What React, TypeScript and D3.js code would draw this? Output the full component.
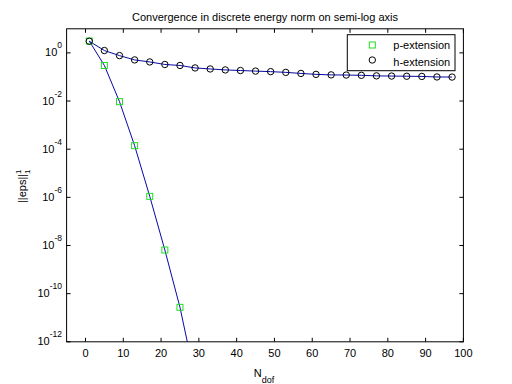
import React from 'react';
import * as d3 from 'd3';

// p-extension (squares) and h-extension (circles)
const pN = [1, 5, 9, 13, 17, 21, 25, 29];
const pErr = [3.1, 0.3, 0.0094, 1.4e-4, 1.1e-6, 6.5e-9, 2.7e-11, 3e-14];

const hN = [1, 5, 9, 13, 17, 21, 25, 29, 33, 37, 41, 45, 49, 53, 57, 61, 65, 69, 73, 77, 81, 85, 89, 93, 97];
const hErr = [3.05, 1.25, 0.77, 0.51, 0.42, 0.33, 0.3, 0.237, 0.215, 0.196, 0.185, 0.175, 0.166, 0.155,
  0.14, 0.128, 0.122, 0.12, 0.117, 0.111, 0.109, 0.107, 0.105, 0.1, 0.099];

const xTicks = [0, 10, 20, 30, 40, 50, 60, 70, 80, 90, 100];
const yExps = [0, -2, -4, -6, -8, -10, -12];

const W = 512;
const H = 384;
const m = { left: 66.6, right: 48.6, top: 28.8, bottom: 42.2 };

const App: React.FC = () => {
  const x = d3.scaleLinear().domain([-5, 100]).range([m.left, W - m.right]);
  const y = d3.scaleLog().domain([1e-12, 10]).range([H - m.bottom, m.top]);

  const line = d3.line<[number, number]>()
    .x(d => x(d[0]))
    .y(d => y(d[1]));

  const pPts = pN.map((n, i) => [n, pErr[i]] as [number, number]);
  const hPts = hN.map((n, i) => [n, hErr[i]] as [number, number]);

  const x0 = m.left, x1 = W - m.right, y0 = m.top, y1 = H - m.bottom;
  const tl = 4;
  const font = 'Liberation Sans, Arial, sans-serif';
  const blue = '#0808a8';
  const green = '#22dd22';

  return (
    <svg width={W} height={H} style={{ position: 'absolute', left: 0, top: 0, background: '#fff' }}
      fontFamily={font}>
      <defs>
        <clipPath id="plot"><rect x={x0} y={y0} width={x1 - x0} height={y1 - y0} /></clipPath>
      </defs>
      <rect width={W} height={H} fill="#fff" />

      {/* ticks */}
      {xTicks.map(t => (
        <g key={'x' + t}>
          <line x1={x(t)} x2={x(t)} y1={y1} y2={y1 - tl} stroke="#000" />
          <line x1={x(t)} x2={x(t)} y1={y0} y2={y0 + tl} stroke="#000" />
          <text x={x(t)} y={356.5} fontSize={11} textAnchor="middle">{t}</text>
        </g>
      ))}
      {yExps.map(e => (
        <g key={'y' + e}>
          <line x1={x0} x2={x0 + tl} y1={y(10 ** e)} y2={y(10 ** e)} stroke="#000" />
          <line x1={x1} x2={x1 - tl} y1={y(10 ** e)} y2={y(10 ** e)} stroke="#000" />
          <text x={62} y={y(10 ** e) + 3.5} fontSize={11} textAnchor="end">
            10<tspan dy={-8} fontSize={8.5}>{e === 0 ? '0' : '-' + Math.abs(e)}</tspan>
          </text>
        </g>
      ))}

      {/* lines and markers */}
      <g clipPath="url(#plot)">
        <path d={line(pPts) ?? ''} fill="none" stroke={blue} strokeWidth={1} />
        <path d={line(hPts) ?? ''} fill="none" stroke={blue} strokeWidth={1} />
        {pPts.map((d, i) => (
          <rect key={'p' + i} x={x(d[0]) - 3} y={y(d[1]) - 3} width={6} height={6}
            fill="none" stroke={green} strokeWidth={1} />
        ))}
        {hPts.map((d, i) => (
          <circle key={'h' + i} cx={x(d[0])} cy={y(d[1])} r={3.2}
            fill="none" stroke="#000" strokeWidth={1} />
        ))}
      </g>

      <rect x={x0} y={y0} width={x1 - x0} height={y1 - y0} fill="none" stroke="#000" />

      {/* title */}
      <text x={(x0 + x1) / 2} y={21} fontSize={11} textAnchor="middle">
        Convergence in discrete energy norm on semi-log axis
      </text>

      {/* axis labels */}
      <text x={264} y={377} fontSize={11} textAnchor="middle">
        N<tspan dy={5.5} fontSize={9}>dof</tspan>
      </text>
      <g transform="translate(25.5,203) rotate(-90)">
        <text x={0} y={0} fontSize={11}>||eps||</text>
        <text x={29} y={-5} fontSize={8}>1</text>
        <text x={29} y={4} fontSize={8}>1</text>
      </g>

      {/* legend */}
      <rect x={347.3} y={34.7} width={107.7} height={36} fill="#fff" stroke="#000" />
      <rect x={369.3} y={42} width={6} height={6} fill="none" stroke={green} />
      <text x={393.3} y={48.5} fontSize={11}>p-extension</text>
      <circle cx={372.3} cy={60} r={3.2} fill="none" stroke="#000" />
      <text x={393.3} y={65.5} fontSize={11}>h-extension</text>
    </svg>
  );
};

export default App;
